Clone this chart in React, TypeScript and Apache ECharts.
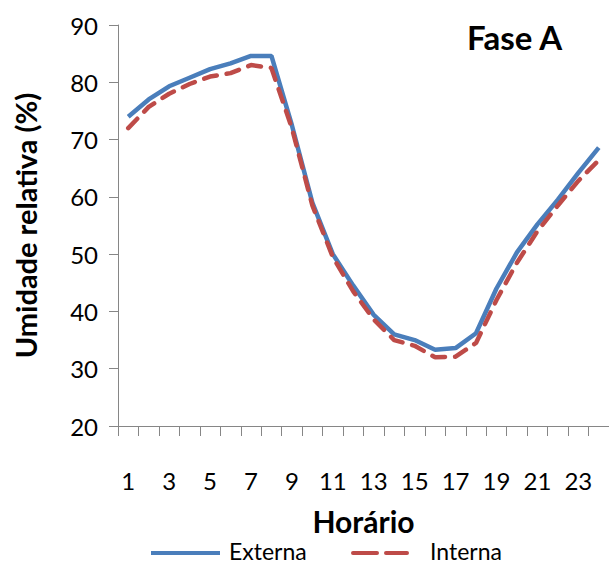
import React, { useEffect, useRef } from "react";
import * as echarts from "echarts";

const hours = Array.from({ length: 24 }, (_, i) => String(i + 1));
const externa = [74, 77, 79.3, 80.8, 82.3, 83.3, 84.6, 84.6, 72.5, 59, 50, 44.5, 39.4, 36, 35, 33.3, 33.6, 36.2, 44, 50.3, 55.2, 59.5, 64.2, 68.6];
const interna = [72, 75.7, 78, 79.7, 81, 81.6, 83, 82.5, 72, 58.5, 49.5, 43.5, 38.6, 35, 34, 32, 32.1, 34.5, 42, 48.5, 54, 58.5, 62.8, 66.4];
const yTicks = { min: 20, max: 90, interval: 10 };
const seriesNames = ["Externa", "Interna"];

const FONT = "Lato, 'Open Sans', sans-serif";
const BLUE = "#4A7EBB";
const RED = "#BE4B48";

export default function App() {
  const ref = useRef<HTMLDivElement>(null);
  useEffect(() => {
    if (!ref.current) return;
    const chart = echarts.init(ref.current, null, { renderer: "svg" });
    chart.setOption({
      animation: false,
      backgroundColor: "#ffffff",
      textStyle: { fontFamily: FONT },
      grid: { left: 118, right: -9, top: 25, bottom: 149 },
      title: {
        text: "Fase A",
        left: 462,
        top: 15,
        textStyle: { fontFamily: FONT, fontSize: 33, fontWeight: "bold", color: "#000" },
      },
      graphic: [
        {
          type: "line",
          shape: { x1: 151, y1: 553, x2: 220, y2: 553 },
          style: { stroke: BLUE, lineWidth: 4 },
        },
        {
          type: "text",
          left: 229,
          top: 539,
          style: { text: seriesNames[0], font: `23px ${FONT}`, fill: "#000" },
        },
        {
          type: "line",
          shape: { x1: 353, y1: 553, x2: 407, y2: 553 },
          style: { stroke: RED, lineWidth: 4, lineDash: [24, 9], lineCap: "round" },
        },
        {
          type: "text",
          left: 430,
          top: 539,
          style: { text: seriesNames[1], font: `23px ${FONT}`, fill: "#000" },
        },
      ],
      xAxis: {
        type: "category",
        data: hours,
        boundaryGap: true,
        name: "Horário",
        nameLocation: "middle",
        nameGap: 80,
        nameTextStyle: { fontFamily: FONT, fontSize: 30, fontWeight: "bold", color: "#000" },
        axisLine: { lineStyle: { color: "#868686", width: 1 } },
        axisTick: { show: true, interval: 0, length: 10, lineStyle: { color: "#868686" } },
        axisLabel: { interval: 1, fontSize: 24, color: "#000", margin: 42, fontFamily: FONT },
        splitLine: { show: false },
      },
      yAxis: {
        type: "value",
        min: yTicks.min,
        max: yTicks.max,
        interval: yTicks.interval,
        name: "Umidade relativa (%)",
        nameLocation: "middle",
        nameGap: 78,
        nameTextStyle: { fontFamily: FONT, fontSize: 29, fontWeight: "bold", color: "#000" },
        axisLine: { show: true, lineStyle: { color: "#868686", width: 1 } },
        axisTick: { show: true, length: 9, lineStyle: { color: "#868686" } },
        axisLabel: { fontSize: 24, color: "#000", margin: 20, fontFamily: FONT },
        splitLine: { show: false },
      },
      series: [
        {
          name: seriesNames[0],
          type: "line",
          data: externa,
          symbol: "none",
          lineStyle: { color: BLUE, width: 4.5 },
          itemStyle: { color: BLUE },
        },
        {
          name: seriesNames[1],
          type: "line",
          data: interna,
          symbol: "none",
          z: 3,
          lineStyle: { color: RED, width: 4.5, type: [13, 10], cap: "round" },
          itemStyle: { color: RED },
        },
      ],
    });
    return () => chart.dispose();
  }, []);
  return (
    <div
      ref={ref}
      style={{ position: "fixed", left: 0, top: 0, width: 609, height: 575 }}
    />
  );
}
